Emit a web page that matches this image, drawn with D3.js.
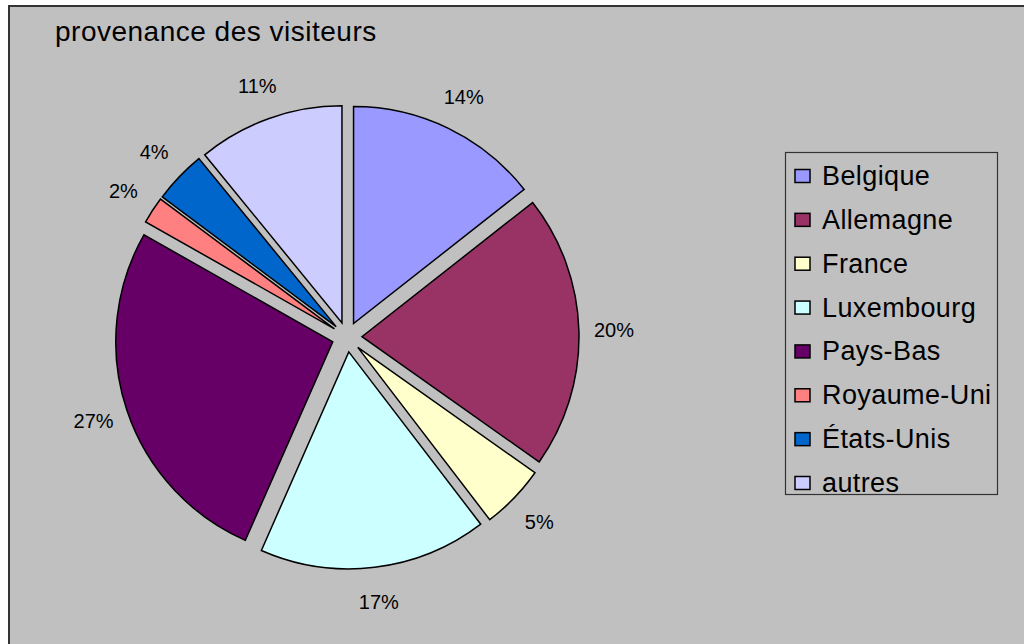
<!DOCTYPE html>
<html lang="fr">
<head>
  <meta charset="UTF-8" />
  <title>provenance des visiteurs</title>
  <script src="https://cdn.jsdelivr.net/npm/d3@7"></script>
  <style>
    html, body { margin: 0; padding: 0; background: #fff; overflow: hidden; }
    svg { display: block; font-family: Arial, "Liberation Sans", sans-serif; }
  </style>
</head>
<body>
  <script>
    // ----------------------------
    // Data
    // ----------------------------
    const countries = ["Belgique", "Allemagne", "France", "Luxembourg", "Pays-Bas", "Royaume-Uni", "États-Unis", "autres"];
    const shares = [14.4, 20.4, 4.8, 17.0, 26.6, 2.0, 3.9, 10.9];
    const colors = ["#9999FF", "#993366", "#FFFFCC", "#CCFFFF", "#660066", "#FF8080", "#0066CC", "#CCCCFF"];
    const title = "provenance des visiteurs";

    const width = 1024, height = 644;
    const center = { x: 347, y: 337 };
    const radius = 217;
    const explode = 15;     // slice offset
    const labelRadius = 267;

    const svg = d3.select("body").append("svg")
      .attr("width", width)
      .attr("height", height);

    // chart area
    svg.append("rect")
      .attr("x", 9).attr("y", 6)
      .attr("width", width + 20).attr("height", height + 20)
      .attr("fill", "#C0C0C0")
      .attr("stroke", "#333")
      .attr("stroke-width", 2);

    svg.append("text")
      .attr("x", 55).attr("y", 41)
      .attr("font-size", 28)
      .attr("letter-spacing", 0.5)
      .attr("fill", "#000")
      .text(title);

    // ----------------------------
    // Pie
    // ----------------------------
    const total = d3.sum(shares);
    const pie = d3.pie().sort(null).value(d => d)
      .startAngle(0).endAngle(2 * Math.PI);
    const arcs = pie(shares);
    const arc = d3.arc().innerRadius(0).outerRadius(radius);
    const mid = d => (d.startAngle + d.endAngle) / 2;

    const g = svg.append("g")
      .attr("transform", `translate(${center.x},${center.y})`);

    g.selectAll("path.slice")
      .data(arcs)
      .join("path")
      .attr("class", "slice")
      .attr("d", arc)
      .attr("transform", d => `translate(${explode * Math.sin(mid(d))},${-explode * Math.cos(mid(d))})`)
      .attr("fill", (d, i) => colors[i])
      .attr("stroke", "#000")
      .attr("stroke-width", 1.5);

    g.selectAll("text.pct")
      .data(arcs)
      .join("text")
      .attr("class", "pct")
      .attr("x", d => labelRadius * Math.sin(mid(d)))
      .attr("y", d => -labelRadius * Math.cos(mid(d)))
      .attr("text-anchor", "middle")
      .attr("dominant-baseline", "central")
      .attr("font-size", 20)
      .attr("fill", "#000")
      .text(d => Math.round(d.value / total * 100) + "%");

    // ----------------------------
    // Legend
    // ----------------------------
    const legend = svg.append("g").attr("transform", "translate(785,152)");
    legend.append("rect")
      .attr("x", 0.5).attr("y", 0.5)
      .attr("width", 212).attr("height", 342)
      .attr("fill", "none")
      .attr("stroke", "#333")
      .attr("stroke-width", 1.2);

    // baselines of the legend rows
    const rowY = d3.scalePoint().domain(countries).range([33, 340]);

    const items = legend.selectAll("g.item")
      .data(countries)
      .join("g")
      .attr("class", "item")
      .attr("transform", d => `translate(0,${rowY(d)})`);

    items.append("rect")
      .attr("x", 10).attr("y", -15.5)
      .attr("width", 15).attr("height", 13)
      .attr("fill", (d, i) => colors[i])
      .attr("stroke", "#000")
      .attr("stroke-width", 1.5);

    items.append("text")
      .attr("x", 37)
      .attr("y", 0)
      .attr("font-size", 27)
      .attr("letter-spacing", 0.4)
      .attr("fill", "#000")
      .text(d => d);
  </script>
</body>
</html>
